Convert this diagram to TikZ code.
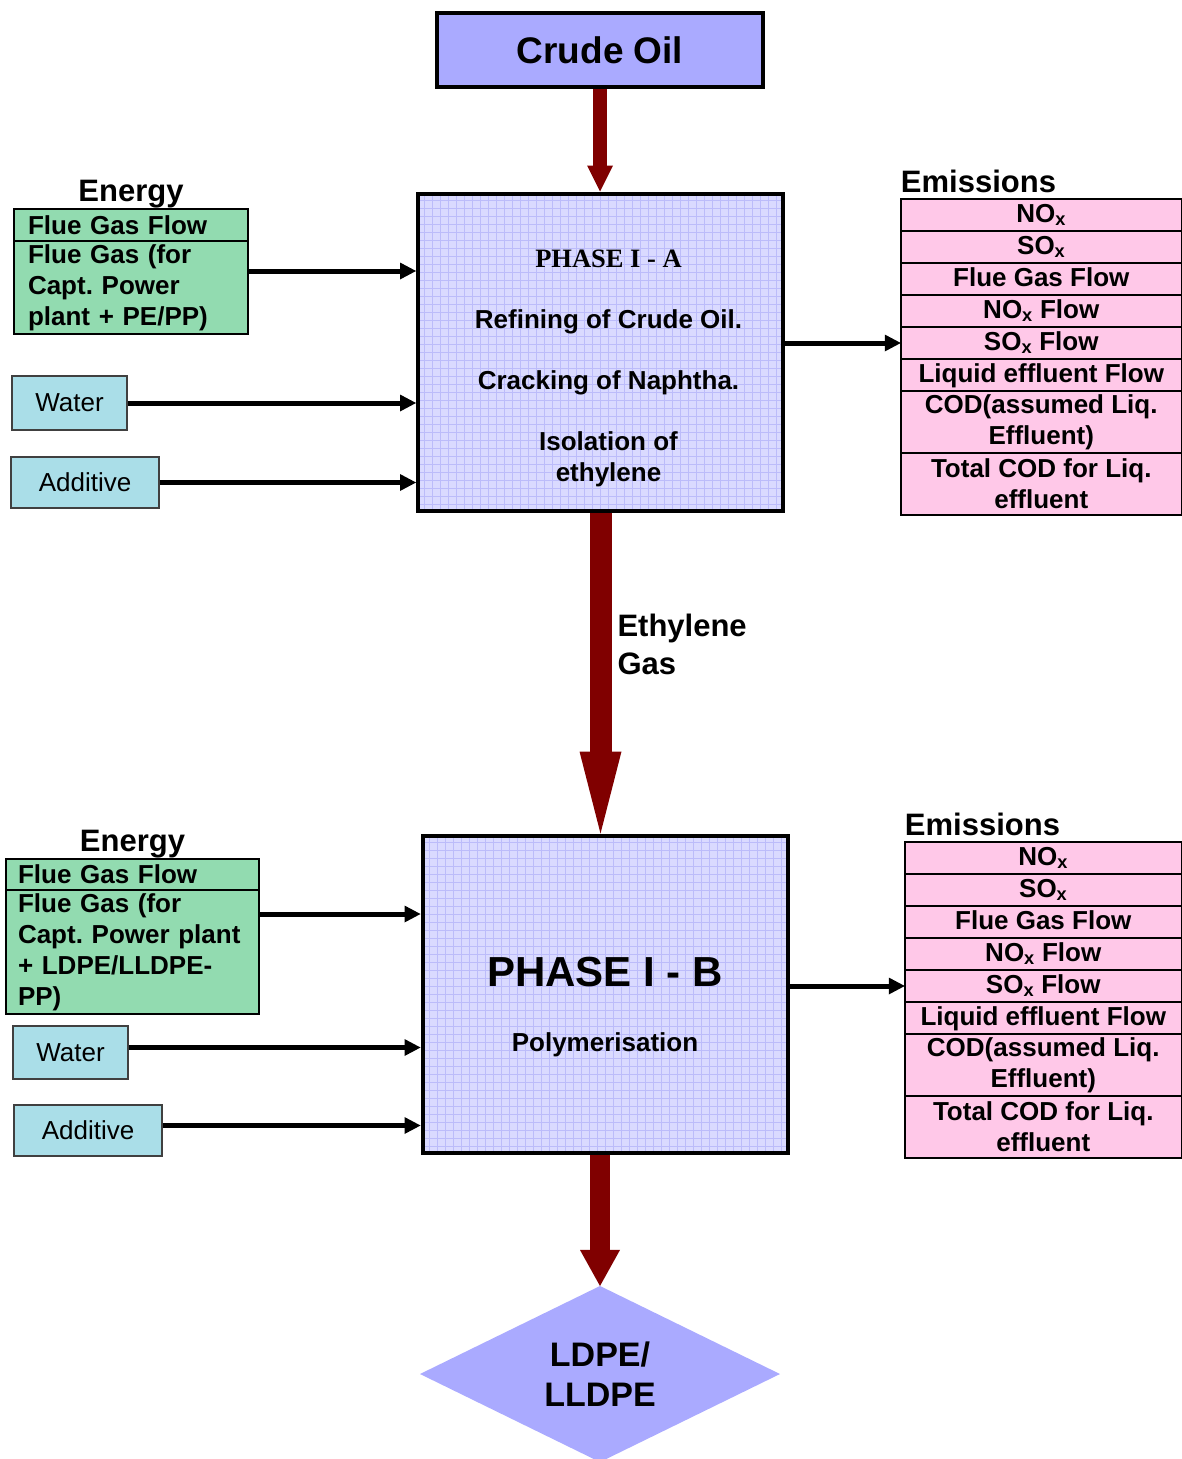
\documentclass[tikz,border=0pt]{standalone}
\usepackage{fontspec}
\setmainfont{Liberation Sans}
\newfontfamily\timesfont{Liberation Serif}
\usetikzlibrary{positioning,shapes.geometric,arrows.meta}
\definecolor{visiniu}{RGB}{128,0,0}
\definecolor{lila}{RGB}{170,170,255}
\definecolor{lilapal}{RGB}{218,218,255}
\definecolor{grila}{RGB}{188,188,250}
\definecolor{verde}{RGB}{146,219,176}
\definecolor{bleu}{RGB}{170,222,232}
\definecolor{roz}{RGB}{255,200,232}
\frenchspacing

\begin{document}
\begin{tikzpicture}[x=1pt, y=-1pt,
		every node/.style={font=\bfseries\fontsize{26}{31}\selectfont},
		phasebox/.style={draw, line width=4pt, fill=lilapal, minimum width=365pt, minimum height=317pt,
			path picture={\draw[grila, line width=0.5pt] (path picture bounding box.south west) grid[step=8pt] (path picture bounding box.north east);}},
		sourcebox/.style={draw, line width=4pt, fill=lila, minimum width=326pt, minimum height=74pt, font=\bfseries\fontsize{37}{44}\selectfont},
		gascell/.style={draw, line width=2pt, fill=verde, outer sep=0pt, inner ysep=0pt, align=left},
		inputbox/.style={draw=black!75, line width=1.5pt, fill=bleu, font=\fontsize{26}{31}\selectfont},
		emcell/.style={draw, line width=1.5pt, fill=roz, outer sep=0pt, inner sep=0pt, align=center},
		emrow/.style={emcell, minimum height=32pt, text height=19pt, text depth=5pt},
		emrow2/.style={emcell, minimum height=62pt},
		heading/.style={font=\bfseries\fontsize{31}{38}\selectfont, inner sep=0pt},
		inarrow/.style={line width=5pt, -{Triangle[length=16pt,width=17pt,line width=0pt]}},
		redflow/.style={draw=visiniu, line cap=butt}]
	\useasboundingbox (0,0) rectangle (1182,1459);

	% main line
	\node[sourcebox] (crude) at (600,50) {Crude Oil};
	\node[phasebox] (phaseA) at (600.5,352) {};
	\node[align=center] (textA) at ([xshift=8pt,yshift=-16pt]phaseA.center)
		{{\timesfont\fontsize{26.5}{31}\selectfont PHASE I - A}\\[30pt] Refining of Crude Oil.\\[30pt] Cracking of Naphtha.\\[30pt] Isolation of\\ ethylene};
	\node[phasebox] (phaseB) at (605,994) {};
	\node[font=\bfseries\fontsize{42}{50}\selectfont] (titleB) at ([yshift=22pt]phaseB.center) {PHASE I - B};
	\node (polyB) at ([yshift=-51pt]phaseB.center) {Polymerisation};
	\node[diamond, fill=lila, minimum width=360pt, minimum height=172pt, inner sep=0pt, outer sep=0pt, align=center,
		font=\bfseries\fontsize{34}{40}\selectfont] (product) at (600,1374) {LDPE/\\LLDPE};

	% inputs phase A
	\node[gascell, anchor=north west, text width=206pt, inner xsep=14pt, minimum height=32pt] (gasA1) at (14,209) {Flue Gas Flow};
	\node[gascell, below=0pt of gasA1, text width=206pt, inner xsep=14pt, minimum height=93pt] (gasA2) {Flue Gas (for\\ Capt. Power\\ plant + PE/PP)};
	\node[heading, anchor=base] (energyA) at ([yshift=8pt]gasA1.north) {Energy};
	\node[inputbox, minimum width=115pt, minimum height=54pt] (waterA) at (69.5,403) {Water};
	\node[inputbox, minimum width=148pt, minimum height=51pt] (addA) at (85,482.5) {Additive};

	% inputs phase B
	\node[gascell, anchor=north west, text width=229pt, inner xsep=12pt, minimum height=31pt] (gasB1) at (6,859) {Flue Gas Flow};
	\node[gascell, below=0pt of gasB1, text width=229pt, inner xsep=12pt, minimum height=124pt] (gasB2) {Flue Gas (for\\ Capt. Power plant\\ + LDPE/LLDPE-\\ PP)};
	\node[heading, anchor=base] (energyB) at ([yshift=8pt]gasB1.north) {Energy};
	\node[inputbox, minimum width=115pt, minimum height=53pt] (waterB) at (70.5,1052.5) {Water};
	\node[inputbox, minimum width=148pt, minimum height=51pt] (addB) at (88,1130.5) {Additive};

	% emissions phase A
	\node[emrow, anchor=north west, minimum width=281pt] (emA1) at (900.75,199) {NO\textsubscript{x}};
	\node[emrow, below=0pt of emA1, minimum width=281pt] (emA2) {SO\textsubscript{x}};
	\node[emrow, below=0pt of emA2, minimum width=281pt] (emA3) {Flue Gas Flow};
	\node[emrow, below=0pt of emA3, minimum width=281pt] (emA4) {NO\textsubscript{x} Flow};
	\node[emrow, below=0pt of emA4, minimum width=281pt] (emA5) {SO\textsubscript{x} Flow};
	\node[emrow, below=0pt of emA5, minimum width=281pt] (emA6) {Liquid effluent Flow};
	\node[emrow2, below=0pt of emA6, minimum width=281pt] (emA7) {COD(assumed Liq.\\ Effluent)};
	\node[emrow2, below=0pt of emA7, minimum width=281pt] (emA8) {Total COD for Liq.\\ effluent};
	\node[heading, anchor=base west] (emisA) at ([yshift=7pt]emA1.north west) {Emissions};

	% emissions phase B
	\node[emrow, anchor=north west, minimum width=277pt] (emB1) at (904.75,842) {NO\textsubscript{x}};
	\node[emrow, below=0pt of emB1, minimum width=277pt] (emB2) {SO\textsubscript{x}};
	\node[emrow, below=0pt of emB2, minimum width=277pt] (emB3) {Flue Gas Flow};
	\node[emrow, below=0pt of emB3, minimum width=277pt] (emB4) {NO\textsubscript{x} Flow};
	\node[emrow, below=0pt of emB4, minimum width=277pt] (emB5) {SO\textsubscript{x} Flow};
	\node[emrow, below=0pt of emB5, minimum width=277pt] (emB6) {Liquid effluent Flow};
	\node[emrow2, below=0pt of emB6, minimum width=277pt] (emB7) {COD(assumed Liq.\\ Effluent)};
	\node[emrow2, below=0pt of emB7, minimum width=277pt] (emB8) {Total COD for Liq.\\ effluent};
	\node[heading, anchor=base west] (emisB) at ([yshift=7pt]emB1.north west) {Emissions};

	% flows
	\draw[redflow, line width=14pt, -{Triangle[length=26pt,width=26pt,line width=0pt]}] (crude.south) -- (crude.south |- phaseA.north);
	\draw[redflow, line width=22pt, -{Triangle[length=82pt,width=42pt,line width=0pt]}] (phaseA.south) -- (phaseA.south |- phaseB.north)
		node[pos=.41, anchor=west, xshift=17pt, inner sep=0pt, outer sep=0pt, align=left, font=\bfseries\fontsize{31}{38}\selectfont] (ethyl) {Ethylene\\Gas};
	\draw[redflow, line width=20pt, -{Triangle[length=36pt,width=40pt,line width=0pt]}] (product.north |- phaseB.south) -- (product.north);

	\draw[inarrow] ([yshift=16.5pt]gasA2.east) -- ([yshift=16.5pt]gasA2.east -| phaseA.west);
	\draw[inarrow] (waterA.east) -- (waterA.east -| phaseA.west);
	\draw[inarrow] (addA.east) -- (addA.east -| phaseA.west);
	\draw[inarrow] (phaseA.east |- emA5.west) -- (emA5.west);

	\draw[inarrow] ([yshift=38pt]gasB2.east) -- ([yshift=38pt]gasB2.east -| phaseB.west);
	\draw[inarrow] ([yshift=5pt]waterB.east) -- ([yshift=5pt]waterB.east -| phaseB.west);
	\draw[inarrow] ([yshift=5pt]addB.east) -- ([yshift=5pt]addB.east -| phaseB.west);
	\draw[inarrow] (phaseB.east |- emB5.west) -- (emB5.west);
\end{tikzpicture}
\end{document}
